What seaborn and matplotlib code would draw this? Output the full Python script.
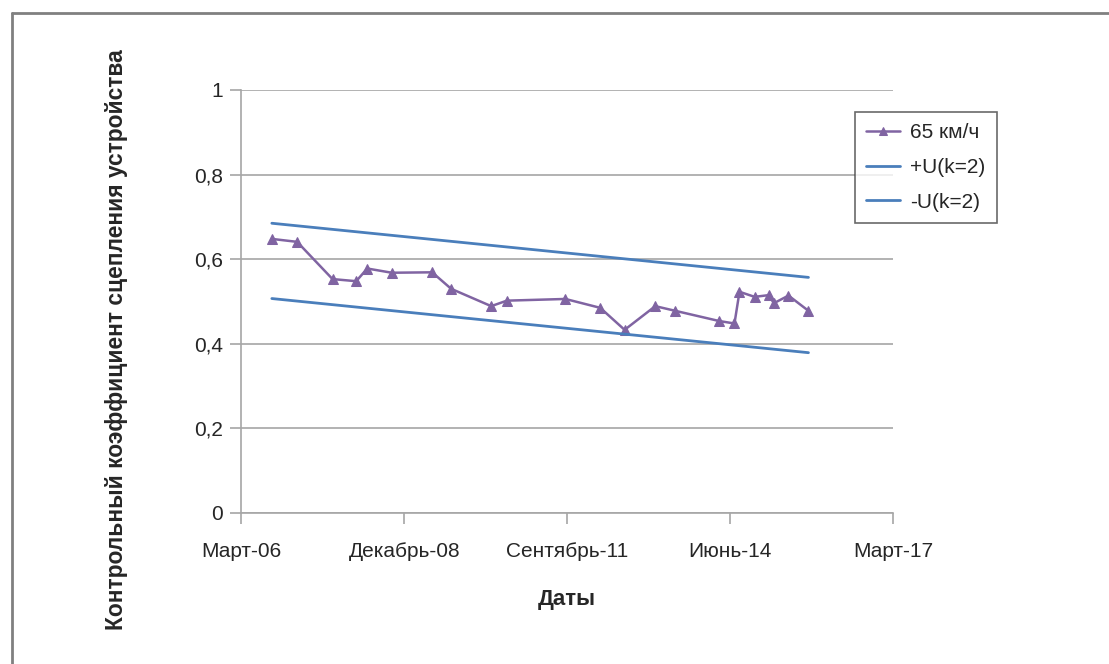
import pandas as pd
import matplotlib
matplotlib.use("Agg")
import matplotlib.pyplot as plt
import matplotlib.dates as mdates
from matplotlib.lines import Line2D
from matplotlib.ticker import FuncFormatter
import seaborn as sns

# --- data ---
dates = ["2006-09-07", "2007-02-10", "2007-09-16", "2008-02-09", "2008-04-17",
         "2008-09-15", "2009-05-22", "2009-09-16", "2010-05-21", "2010-08-25",
         "2011-08-21", "2012-03-23", "2012-08-20", "2013-02-25", "2013-06-28",
         "2014-03-24", "2014-06-28", "2014-07-29", "2014-10-30", "2015-01-24",
         "2015-02-26", "2015-05-27", "2015-09-27"]
coef_65 = [0.648, 0.641, 0.553, 0.548, 0.578, 0.568, 0.569, 0.530, 0.489, 0.502,
           0.506, 0.485, 0.433, 0.489, 0.478, 0.454, 0.448, 0.523, 0.511, 0.515,
           0.496, 0.514, 0.478]
u_dates = ["2006-09-07", "2015-09-27"]
u_plus = [0.685, 0.557]
u_minus = [0.507, 0.379]
tick_dates = ["2006-03-01", "2008-12-01", "2011-09-01", "2014-06-01", "2017-03-01"]
tick_labels = ["Март-06", "Декабрь-08", "Сентябрь-11", "Июнь-14", "Март-17"]

df = pd.DataFrame({"date": pd.to_datetime(dates), "coef": coef_65})
df_u = pd.DataFrame({"date": pd.to_datetime(u_dates), "plus": u_plus, "minus": u_minus})

sns.set_theme(style="white")
plt.rcParams["font.family"] = ["Liberation Sans", "DejaVu Sans"]

fig = plt.figure(figsize=(11.09, 6.64), dpi=100)
ax = fig.add_axes([241 / 1109, 1 - 513 / 664, (893 - 241) / 1109, (513 - 90) / 664])

purple = "#8064a2"
blue = "#4a7ebb"
txt = "#262626"

sns.lineplot(data=df, x="date", y="coef", ax=ax, color=purple, marker="^",
             markersize=7, markeredgecolor=purple, linewidth=1.8, label="65 км/ч")
sns.lineplot(data=df_u, x="date", y="plus", ax=ax, color=blue, linewidth=2,
             label="+U(k=2)")
sns.lineplot(data=df_u, x="date", y="minus", ax=ax, color=blue, linewidth=2,
             label="-U(k=2)")

ax.set_ylim(0, 1)
ax.set_yticks([0, 0.2, 0.4, 0.6, 0.8, 1.0])
ax.yaxis.set_major_formatter(FuncFormatter(
    lambda v, p: "0" if v == 0 else ("1" if v == 1 else f"{v:.1f}".replace(".", ","))))

ticks = mdates.date2num(pd.to_datetime(tick_dates))
ax.set_xlim(ticks[0], ticks[-1])
ax.set_xticks(ticks)
ax.set_xticklabels(tick_labels)

grid_c = "#a6a6a6"
ax.grid(axis="y", color=grid_c, linewidth=1.2)
ax.set_axisbelow(True)
for s in ["top", "right"]:
    ax.spines[s].set_visible(False)
for s in ["left", "bottom"]:
    ax.spines[s].set_color(grid_c)
    ax.spines[s].set_linewidth(1.2)
ax.tick_params(axis="both", which="both", direction="out", length=8, width=1.2,
               color=grid_c, labelsize=15, labelcolor=txt, bottom=True, left=True)
ax.tick_params(axis="y", pad=5)
ax.tick_params(axis="x", pad=13)

ax.set_xlabel("Даты", fontsize=16, fontweight="bold", labelpad=20, color=txt)
ax.set_ylabel("Контрольный коэффициент сцепления устройства", fontsize=16.4,
              fontweight="bold", color=txt)
ax.yaxis.set_label_coords(-113 / 652, (513 - 340) / 423)

leg = ax.legend(loc="upper left", bbox_to_anchor=(855 / 1109, 1 - 112 / 664),
                bbox_transform=fig.transFigure, frameon=True, fancybox=False,
                fontsize=15, handlelength=1.6, borderpad=0.55, labelspacing=0.75,
                handletextpad=0.5, borderaxespad=0, markerscale=0.8)
leg.get_frame().set_edgecolor("#444444")
leg.get_frame().set_linewidth(1.2)

# outer frame (top and left edges visible in the reference)
fig.add_artist(Line2D([12 / 1109, 1], [1 - 13 / 664, 1 - 13 / 664],
                      transform=fig.transFigure, color="#808080", linewidth=2))
fig.add_artist(Line2D([12 / 1109, 12 / 1109], [0, 1 - 13 / 664],
                      transform=fig.transFigure, color="#808080", linewidth=2))

fig.savefig("out.png", dpi=100)
